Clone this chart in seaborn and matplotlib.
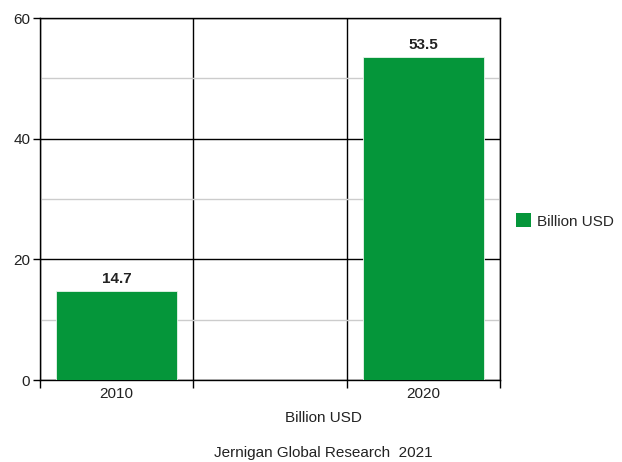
import matplotlib
matplotlib.use("Agg")
import matplotlib.pyplot as plt
import seaborn as sns
import pandas as pd
from matplotlib.patches import Patch

years = ["2010", "2020"]
order = ["2010", "2015", "2020"]
tick_labels = ["2010", "", "2020"]
values = [14.7, 53.5]
series_name = "Billion USD"
x_label = "Billion USD"
caption = "Jernigan Global Research  2021"
green = "#05963A"

sns.set_theme(style="white")
plt.rcParams["font.family"] = ["Liberation Sans", "DejaVu Sans"]

df = pd.DataFrame({"year": years, "value": values})

fig = plt.figure(figsize=(6.22, 4.62), dpi=100)
ax = fig.add_axes([40/622, 1-380/462, 460/622, 362/462])

sns.barplot(data=df, x="year", y="value", order=order, color=green,
            saturation=1, width=0.79, ax=ax, zorder=3, edgecolor="#e8f5ec", linewidth=0.6)

ax.set_xlim(-0.5, 2.5)
ax.set_ylim(0, 60)
ax.set_xticks([-0.5, 0.5, 1.5, 2.5])
ax.set_xticklabels([])
ax.set_xticks([0, 1, 2], minor=True)
ax.set_xticklabels(tick_labels, minor=True)
ax.tick_params(axis="x", which="major", length=6, width=1, color="black", direction="out", bottom=True)
ax.tick_params(axis="x", which="minor", length=0, labelsize=11, labelcolor="#222222", pad=5)
ax.set_yticks([0, 20, 40, 60])
ax.set_yticks([10, 30, 50], minor=True)
ax.tick_params(axis="y", which="major", length=5, width=1, color="black", direction="out", left=True,
               labelsize=11, labelcolor="#222222", pad=2)
ax.tick_params(axis="y", which="minor", length=0)

ax.grid(True, axis="x", which="major", color="black", linewidth=1, zorder=1)
ax.grid(True, axis="y", which="major", color="black", linewidth=1, zorder=1)
ax.grid(True, axis="y", which="minor", color="#cccccc", linewidth=1, zorder=1)
ax.set_axisbelow(True)

for s in ax.spines.values():
    s.set_visible(True)
    s.set_color("black")
    s.set_linewidth(1)

ax.set_xlabel("")
ax.set_ylabel("")

for c in ax.containers:
    ax.bar_label(c, labels=[f"{v:.1f}" for v in values], padding=4, fontsize=11,
                 fontweight="bold", color="#222222")

fig.legend(handles=[Patch(facecolor=green, edgecolor="none", label=series_name)],
           loc="center left", bbox_to_anchor=(516/622, 1-221/462), frameon=False,
           fontsize=11, handlelength=1.0, handleheight=1.0, handletextpad=0.35,
           borderpad=0, borderaxespad=0)

fig.text(323/622, 1-418/462, x_label, ha="center", va="center", fontsize=11, color="#222222")
fig.text(323/622, 1-453/462, caption, ha="center", va="center", fontsize=11, color="#222222")

fig.savefig("out.png", dpi=100)
